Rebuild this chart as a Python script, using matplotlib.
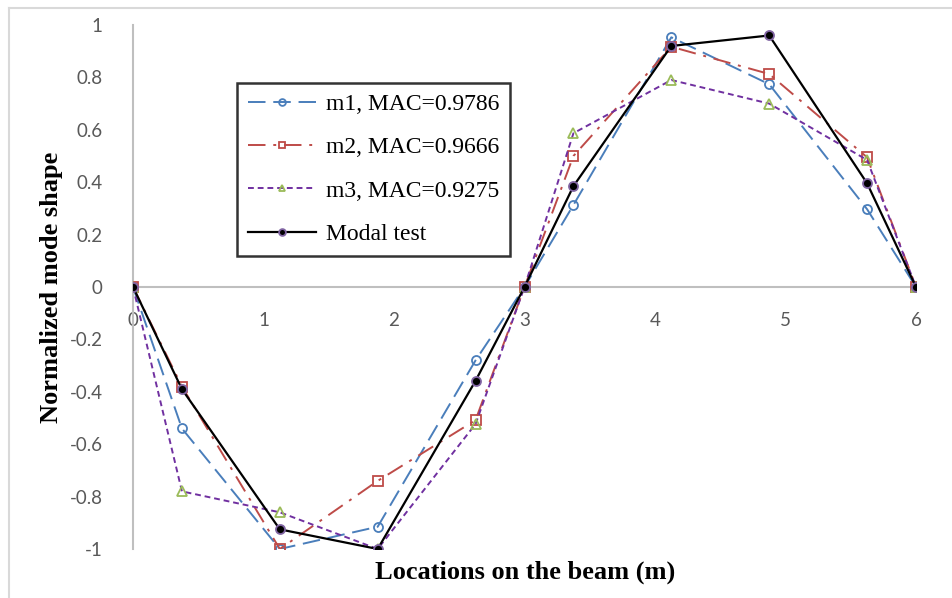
import matplotlib
matplotlib.use("Agg")
import matplotlib.pyplot as plt
from matplotlib.lines import Line2D

x = [0, 0.375, 1.125, 1.875, 2.625, 3, 3.375, 4.125, 4.875, 5.625, 6]
m1 = [0, -0.54, -1.0, -0.915, -0.28, 0, 0.313, 0.953, 0.774, 0.297, 0]
m2 = [0, -0.38, -1.0, -0.74, -0.508, 0, 0.50, 0.917, 0.813, 0.495, 0]
m3 = [0, -0.78, -0.86, -1.0, -0.523, 0, 0.587, 0.79, 0.70, 0.485, 0]
modal = [0, -0.39, -0.925, -1.0, -0.358, 0, 0.385, 0.92, 0.96, 0.396, 0]
labels = ["m1, MAC=0.9786", "m2, MAC=0.9666", "m3, MAC=0.9275", "Modal test"]
xticks = [0, 1, 2, 3, 4, 5, 6]
yticks = [1, 0.8, 0.6, 0.4, 0.2, 0, -0.2, -0.4, -0.6, -0.8, -1]

fig = plt.figure(figsize=(9.53, 5.98), dpi=100)
ax = fig.add_axes([133/953, 1-549/598, (916-133)/953, (549-25)/598])

blue = '#4A7EBB'
red = '#BE4B48'
purple = '#7030A0'
green = '#9BBB59'
modal_edge = '#8064A2'

ax.plot(x, m1, color=blue, lw=1.4, dashes=(9, 4), marker='o', ms=6.5,
        mfc='none', mec=blue, mew=1.3, label=labels[0], zorder=3)
ax.plot(x, m2, color=red, lw=1.4, dashes=(9, 4, 1.5, 4), marker='s', ms=6.5,
        mfc='none', mec=red, mew=1.3, label=labels[1], zorder=3)
ax.plot(x, m3, color=purple, lw=1.4, dashes=(3, 2), marker='^', ms=6.5,
        mfc='none', mec=green, mew=1.3, label=labels[2], zorder=3)
ax.plot(x, modal, color='black', lw=1.6, marker='o', ms=6.5,
        mfc='black', mec=modal_edge, mew=1.3, label=labels[3], zorder=4)

ax.set_xlim(0, 6)
ax.set_ylim(-1, 1)
for s in ['top', 'right']:
    ax.spines[s].set_visible(False)
ax.spines['bottom'].set_position(('data', 0))
ax.spines['bottom'].set_color('#BFBFBF')
ax.spines['left'].set_color('#BFBFBF')
ax.spines['bottom'].set_linewidth(1.5)
ax.spines['left'].set_linewidth(1.5)
ax.set_xticks(xticks)
ax.set_xticklabels([str(v) for v in xticks])
ax.set_yticks(yticks)
ax.set_yticklabels([('%g' % v) for v in yticks])
ax.tick_params(axis='both', length=0, labelsize=13.5, labelcolor='#595959')
ax.tick_params(axis='x', pad=18)
ax.tick_params(axis='y', pad=22)
for t in ax.get_xticklabels() + ax.get_yticklabels():
    t.set_fontfamily('Lato')
ax.patch.set_visible(False)

fig.text(525/953, 1-572/598, "Locations on the beam (m)", ha='center', va='center',
         fontfamily='Liberation Serif', fontweight='bold', fontsize=19)
fig.text(52/953, 1-287/598, "Normalized mode shape", ha='center', va='center',
         rotation=90, fontfamily='Liberation Serif', fontweight='bold', fontsize=19)

leg = ax.legend(loc='upper left', bbox_to_anchor=((237-133)/783, (549-83)/524),
                prop={'family': 'Liberation Serif', 'size': 17}, frameon=True,
                fancybox=False, edgecolor='black', handlelength=2.9,
                labelspacing=0.92, borderpad=0.45, handletextpad=0.4,
                borderaxespad=0, markerscale=0.75)
leg.get_frame().set_linewidth(1.8)

# chart border
fig.add_artist(Line2D([9/953, 9/953], [0, 1-8/598], transform=fig.transFigure,
                      color='#D9D9D9', lw=1.5))
fig.add_artist(Line2D([9/953, 1], [1-8/598, 1-8/598], transform=fig.transFigure,
                      color='#D9D9D9', lw=1.5))

fig.savefig('out.png', dpi=100)
